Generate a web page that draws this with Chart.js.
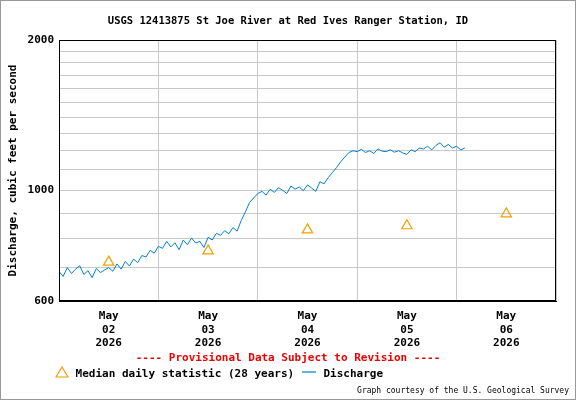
<!DOCTYPE html>
<html><head><meta charset="utf-8">
<script src="https://cdn.jsdelivr.net/npm/chart.js@4"></script>
<style>
body{margin:0;background:#fff;}
#wrap{position:relative;width:574px;height:398px;border:1px solid #999;font-family:'DejaVu Sans Mono',monospace;}
#c{position:absolute;left:0;top:0;}
.t{position:absolute;white-space:nowrap;font-weight:bold;}
</style></head><body>
<div id="wrap">
<canvas id="c" width="574" height="398"></canvas>
<div class="t" style="left:0;width:574px;text-align:center;top:13px;font-size:10.5px;">USGS 12413875 St Joe River at Red Ives Ranger Station, ID</div>
<div class="t" style="left:0;width:574px;text-align:center;top:350px;font-size:11px;color:#e00;">---- Provisional Data Subject to Revision ----</div>
<div class="t" style="left:54px;top:365px;font-size:11px;"><svg width="14" height="12" style="vertical-align:-1px"><polygon points="7,1 13,11 1,11" fill="none" stroke="#f0a000" stroke-width="1.2"/></svg> Median daily statistic (28 years) <svg width="16" height="12" style="vertical-align:-1px"><line x1="1" y1="6" x2="15" y2="6" stroke="#0080d0" stroke-width="1.2"/></svg> Discharge</div>
<div class="t" style="right:6px;top:385px;font-size:8px;font-weight:normal;">Graph courtesy of the U.S. Geological Survey</div>
</div>
<script>
const dayLabels=[['May','02','2026'],['May','03','2026'],['May','04','2026'],['May','05','2026'],['May','06','2026']];
const yTicks=[600,700,800,900,1000,1100,1200,1300,1400,1500,1600,1700,1800,1900,2000];
const yLabeled=[600,1000,2000];
const medianHours=[12,36,60,84,108];
const medianValues=[718,756,833,849,897];
const discharge=[688,672,700,681,695,706,678,690,668,697,684,692,
700,688,712,695,720,705,728,716,740,735,758,748,
772,765,790,770,785,760,795,778,802,784,790,768,
805,795,820,812,830,818,842,828,870,905,945,965,
985,995,978,1005,990,1012,1000,985,1020,1005,1015,998,
1025,1010,995,1040,1030,1060,1085,1110,1140,1165,1190,1200,
1195,1208,1190,1200,1185,1210,1198,1195,1205,1192,1200,1188,
1180,1205,1195,1215,1210,1225,1205,1230,1245,1220,1235,1215,
1225,1205,1215];
const F="'DejaVu Sans Mono',monospace";
new Chart(document.getElementById('c'),{
 data:{datasets:[
  {type:'line',data:discharge.map((v,i)=>({x:i,y:v})),borderColor:'#0080d0',borderWidth:1,pointRadius:0,tension:0},
  {type:'scatter',data:medianHours.map((h,i)=>({x:h,y:medianValues[i]})),pointStyle:'triangle',pointRadius:6,borderColor:'#f0a000',backgroundColor:'rgba(0,0,0,0)',borderWidth:1.2}
 ]},
 options:{responsive:false,animation:false,
  layout:{padding:{left:0,top:39,right:19,bottom:0}},
  plugins:{legend:{display:false},tooltip:{enabled:false}},
  scales:{
   x:{type:'linear',min:0,max:120,
    afterBuildTicks:s=>{s.ticks=[];for(let h=0;h<=120;h+=12)s.ticks.push({value:h});},
    afterFit:s=>{s.height=98;},
    grid:{color:c=>c.tick&&c.tick.value%24===0?'#c8c8c8':'rgba(0,0,0,0)',drawTicks:false,lineWidth:1},
    border:{color:'#000',width:1},
    ticks:{autoSkip:false,maxRotation:0,padding:9,color:'#000',font:{family:F,size:11,weight:'bold'},
     callback:v=>v%24===12?dayLabels[(v-12)/24]:''}},
   y:{type:'logarithmic',min:600,max:2000,
    afterBuildTicks:s=>{s.ticks=yTicks.map(v=>({value:v}));},
    afterFit:s=>{s.width=58;},
    grid:{color:'#c8c8c8',drawTicks:false},
    border:{color:'#000',width:1},
    ticks:{autoSkip:false,padding:5,color:'#000',font:{family:F,size:11,weight:'bold'},
     callback:v=>yLabeled.includes(v)?String(v):''},
    title:{display:true,text:'Discharge, cubic feet per second',color:'#000',font:{family:F,size:11,weight:'bold'},padding:{top:6,bottom:0}}}
  }},
 plugins:[{id:'frame',afterDraw(ch){const a=ch.chartArea,x=ch.ctx;x.save();x.strokeStyle='#000';x.lineWidth=1;x.strokeRect(a.left+0.5,a.top+0.5,a.right-a.left-1,a.bottom-a.top-1);x.restore();}}]
});
</script></body></html>
